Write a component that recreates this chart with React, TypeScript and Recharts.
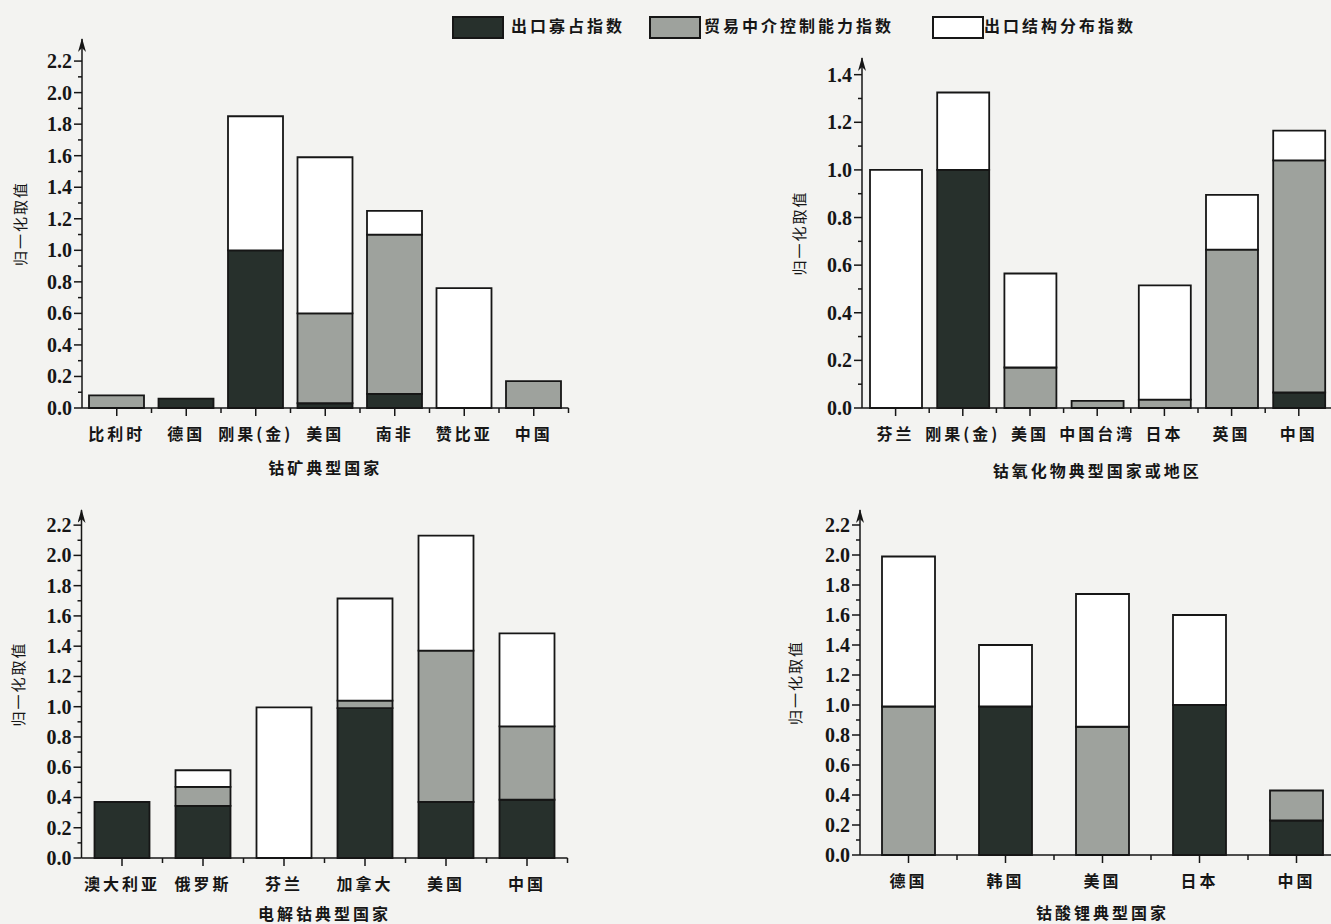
import React from 'react';
import { BarChart, Bar, XAxis, YAxis } from 'recharts';

// 钴矿
const oreCountries = ['比利时', '德国', '刚果(金)', '美国', '南非', '赞比亚', '中国'];
const oreOligopoly = [0, 0.06, 1.0, 0.03, 0.09, 0, 0];
const oreIntermediary = [0.08, 0, 0, 0.57, 1.01, 0, 0.17];
const oreStructure = [0, 0, 0.85, 0.99, 0.15, 0.76, 0];

// 钴氧化物
const oxideRegions = ['芬兰', '刚果(金)', '美国', '中国台湾', '日本', '英国', '中国'];
const oxideOligopoly = [0, 1.0, 0, 0, 0, 0, 0.065];
const oxideIntermediary = [0, 0, 0.17, 0.03, 0.035, 0.665, 0.975];
const oxideStructure = [1.0, 0.325, 0.395, 0, 0.48, 0.23, 0.125];

// 电解钴
const cathodeCountries = ['澳大利亚', '俄罗斯', '芬兰', '加拿大', '美国', '中国'];
const cathodeOligopoly = [0.37, 0.345, 0, 0.99, 0.37, 0.385];
const cathodeIntermediary = [0, 0.125, 0, 0.05, 1.0, 0.485];
const cathodeStructure = [0, 0.11, 0.995, 0.675, 0.76, 0.615];

// 钴酸锂
const licoCountries = ['德国', '韩国', '美国', '日本', '中国'];
const licoOligopoly = [0, 0.99, 0, 1.0, 0.23];
const licoIntermediary = [0.99, 0, 0.855, 0, 0.2];
const licoStructure = [1.0, 0.41, 0.885, 0.6, 0];

const seriesNames = ['出口寡占指数', '贸易中介控制能力指数', '出口结构分布指数'];

const ticks22 = [0, 0.1, 0.2, 0.3, 0.4, 0.5, 0.6, 0.7, 0.8, 0.9, 1.0, 1.1, 1.2, 1.3, 1.4, 1.5, 1.6, 1.7, 1.8, 1.9, 2.0, 2.1, 2.2];
const ticks14 = [0, 0.1, 0.2, 0.3, 0.4, 0.5, 0.6, 0.7, 0.8, 0.9, 1.0, 1.1, 1.2, 1.3, 1.4];

const DARK = '#27302c';
const MID = '#9ea29d';
const LIGHT = '#ffffff';
const INK = '#161616';
const CJK = '"Noto Sans CJK SC", sans-serif';
const NUM = '"Liberation Serif", "DejaVu Serif", serif';

const YTick = (props: any) => {
  const { x, y, payload } = props;
  const v = payload.value;
  const major = Math.round(v * 10) % 2 === 0;
  return (
    <g>
      <line x1={x - (major ? 8 : 4)} x2={x} y1={y} y2={y} stroke={INK} strokeWidth={1.5} />
      {major && (
        <text x={x - 10} y={y} dy="0.35em" textAnchor="end" fill={INK}
          style={{ fontFamily: NUM, fontWeight: 700, fontSize: 20 }}>
          {v.toFixed(1)}
        </text>
      )}
    </g>
  );
};

const XTick = (props: any) => {
  const { x, y, payload, band } = props;
  return (
    <g>
      <line x1={x} x2={x} y1={y} y2={y + 8} stroke={INK} strokeWidth={1.5} />
      <line x1={x + band / 2} x2={x + band / 2} y1={y} y2={y + 5} stroke={INK} strokeWidth={1.5} />
      <text x={x} y={y + 26} dy="0.35em" textAnchor="middle" fill={INK}
        style={{ fontFamily: CJK, fontWeight: 700, fontSize: 16, letterSpacing: 3 }}>
        {payload.value}
      </text>
    </g>
  );
};

type PanelProps = {
  left: number; top: number; width: number; height: number;
  categories: string[]; dark: number[]; mid: number[]; light: number[];
  yMax: number; ticks: number[]; yAxisWidth: number;
  marginTop: number; marginRight: number; marginBottom: number; xAxisHeight: number;
  band: number; barSize: number; title: string; yLabelX: number;
};

const Panel = (p: PanelProps) => {
  const data = p.categories.map((name, i) => ({
    name,
    oligopoly: p.dark[i],
    intermediary: p.mid[i],
    structure: p.light[i],
  }));
  const axisLine = { stroke: INK, strokeWidth: 1.5 };
  return (
    <div style={{ position: 'absolute', left: p.left, top: p.top }}>
      <BarChart
        width={p.width}
        height={p.height}
        data={data}
        margin={{ top: p.marginTop, right: p.marginRight, bottom: p.marginBottom, left: 0 }}
      >
        <XAxis
          dataKey="name"
          interval={0}
          tickLine={false}
          tickSize={0}
          tickMargin={0}
          height={p.xAxisHeight}
          axisLine={axisLine}
          tick={(tp: any) => <XTick {...tp} band={p.band} />}
          label={{
            value: p.title,
            position: 'insideBottom',
            offset: 0,
            style: { fontFamily: CJK, fontWeight: 700, fontSize: 16, letterSpacing: 3, fill: INK },
          }}
        />
        <YAxis
          type="number"
          domain={[0, p.yMax]}
          ticks={p.ticks}
          interval={0}
          width={p.yAxisWidth}
          tickLine={false}
          tickSize={0}
          tickMargin={0}
          axisLine={{ ...axisLine, markerStart: 'url(#axisArrow)' } as any}
          tick={(tp: any) => <YTick {...tp} />}
          label={{
            value: '归一化取值',
            angle: -90,
            position: 'insideLeft',
            offset: p.yLabelX,
            style: { textAnchor: 'middle', fontFamily: CJK, fontSize: 15, letterSpacing: 2, fill: INK },
          }}
        />
        <Bar dataKey="oligopoly" name={seriesNames[0]} stackId="s" fill={DARK} stroke={INK}
          strokeWidth={1.8} barSize={p.barSize} isAnimationActive={false} />
        <Bar dataKey="intermediary" name={seriesNames[1]} stackId="s" fill={MID} stroke={INK}
          strokeWidth={1.8} barSize={p.barSize} isAnimationActive={false} />
        <Bar dataKey="structure" name={seriesNames[2]} stackId="s" fill={LIGHT} stroke={INK}
          strokeWidth={1.8} barSize={p.barSize} isAnimationActive={false} />
      </BarChart>
    </div>
  );
};

const legendItems = [
  { name: seriesNames[0], fill: DARK, boxLeft: 452, textLeft: 511 },
  { name: seriesNames[1], fill: MID, boxLeft: 649, textLeft: 704 },
  { name: seriesNames[2], fill: LIGHT, boxLeft: 932, textLeft: 984 },
];

export default function App() {
  return (
    <div style={{ position: 'absolute', left: 0, top: 0, width: 1331, height: 924, overflow: 'hidden', background: '#f3f3f1' }}>
      <svg width={0} height={0} style={{ position: 'absolute' }}>
        <defs>
          <marker id="axisArrow" markerUnits="userSpaceOnUse" viewBox="0 0 14 8" markerWidth={14} markerHeight={8}
            refX={13} refY={4} orient="auto-start-reverse">
            <path d="M0,0 L14,4 L0,8 L4,4 Z" fill={INK} />
          </marker>
        </defs>
      </svg>

      {legendItems.map((it) => (
        <React.Fragment key={it.name}>
          <div style={{
            position: 'absolute', left: it.boxLeft, top: 16, width: 48, height: 19,
            background: it.fill, border: `2px solid ${INK}`,
          }} />
          <div style={{
            position: 'absolute', left: it.textLeft, top: 13, fontFamily: CJK, fontWeight: 700,
            fontSize: 16, letterSpacing: 3, color: INK, lineHeight: '24px', whiteSpace: 'nowrap',
          }}>
            {it.name}
          </div>
        </React.Fragment>
      ))}

      <Panel left={0} top={0} width={600} height={490}
        categories={oreCountries} dark={oreOligopoly} mid={oreIntermediary} light={oreStructure}
        yMax={2.34} ticks={ticks22} yAxisWidth={82}
        marginTop={39} marginRight={31.5} marginBottom={16} xAxisHeight={66}
        band={69.5} barSize={55} title="钴矿典型国家" yLabelX={21} />

      <Panel left={770} top={0} width={600} height={490}
        categories={oxideRegions} dark={oxideOligopoly} mid={oxideIntermediary} light={oxideStructure}
        yMax={1.47} ticks={ticks14} yAxisWidth={92}
        marginTop={58} marginRight={37.6} marginBottom={13} xAxisHeight={69}
        band={67.2} barSize={52} title="钴氧化物典型国家或地区" yLabelX={30} />

      <Panel left={0} top={490} width={600} height={434}
        categories={cathodeCountries} dark={cathodeOligopoly} mid={cathodeIntermediary} light={cathodeStructure}
        yMax={2.3} ticks={ticks22} yAxisWidth={81.5}
        marginTop={20} marginRight={32.5} marginBottom={4} xAxisHeight={62}
        band={81} barSize={55} title="电解钴典型国家" yLabelX={19} />

      <Panel left={770} top={490} width={600} height={434}
        categories={licoCountries} dark={licoOligopoly} mid={licoIntermediary} light={licoStructure}
        yMax={2.3} ticks={ticks22} yAxisWidth={90}
        marginTop={20} marginRight={25} marginBottom={5} xAxisHeight={64}
        band={97} barSize={53} title="钴酸锂典型国家" yLabelX={26} />
    </div>
  );
}
